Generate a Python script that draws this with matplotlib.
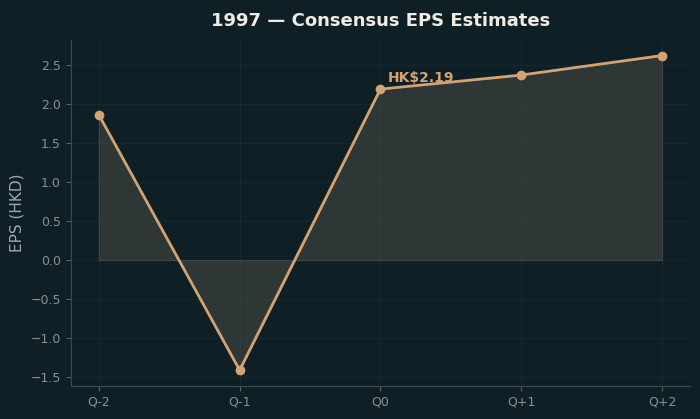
import numpy as np
import matplotlib
matplotlib.use("Agg")
import matplotlib.pyplot as plt

quarters = ["Q-2", "Q-1", "Q0", "Q+1", "Q+2"]
eps = [1.86, -1.41, 2.19, 2.37, 2.62]
label_idx = 2

bg = "#0f1f26"
line_c = "#d4a373"

fig, ax = plt.subplots(figsize=(7, 4.19), dpi=100)
fig.patch.set_facecolor(bg)
ax.set_facecolor(bg)
fig.subplots_adjust(left=0.101, right=0.986, bottom=0.079, top=0.905)

x = np.arange(len(quarters))
ax.fill_between(x, 0, eps, color="#4a4a45", alpha=0.55, edgecolor="#5a5a55", linewidth=0.8)
ax.plot(x, eps, color=line_c, linewidth=2, marker="o", markersize=6)

ax.annotate("HK$%.2f" % eps[label_idx], (x[label_idx], eps[label_idx]),
            xytext=(5, 5), textcoords="offset points",
            color=line_c, fontsize=10, fontweight="bold")

ax.set_xticks(x)
ax.set_xticklabels(quarters)
ax.set_ylabel("EPS (HKD)", color="#a0a8ad", fontsize=11)
ax.set_title("1997 \u2014 Consensus EPS Estimates", color="#f0ece4",
             fontsize=13, fontweight="bold", pad=10)

ax.grid(True, color="#17272e", linewidth=0.8)
ax.set_axisbelow(True)
for s in ["top", "right"]:
    ax.spines[s].set_visible(False)
for s in ["left", "bottom"]:
    ax.spines[s].set_color("#3f4a4f")
ax.tick_params(colors="#8a9096", labelsize=9)
ax.tick_params(axis="both", color="#5a6368")

fig.savefig("out.png", dpi=100, facecolor=bg)
